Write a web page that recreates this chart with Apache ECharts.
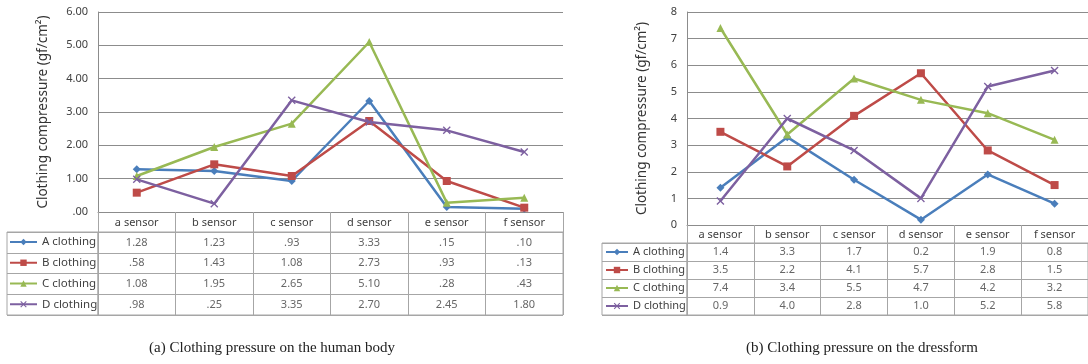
<!DOCTYPE html>
<html>
<head>
<meta charset="utf-8">
<script src="https://cdn.jsdelivr.net/npm/echarts@6/dist/echarts.min.js"></script>
<style>
html,body{margin:0;padding:0;background:#fff;}
#c{width:1088px;height:364px;}
</style>
</head>
<body>
<div id="c"></div>
<script>
// ---- data ----
const sensors = ['a sensor', 'b sensor', 'c sensor', 'd sensor', 'e sensor', 'f sensor'];
const clothing = ['A clothing', 'B clothing', 'C clothing', 'D clothing'];

// (a) human body
const bodyA = [1.28, 1.23, 0.93, 3.33, 0.15, 0.10];
const bodyB = [0.58, 1.43, 1.08, 2.73, 0.93, 0.13];
const bodyC = [1.08, 1.95, 2.65, 5.10, 0.28, 0.43];
const bodyD = [0.98, 0.25, 3.35, 2.70, 2.45, 1.80];

// (b) dressform
const formA = [1.4, 3.3, 1.7, 0.2, 1.9, 0.8];
const formB = [3.5, 2.2, 4.1, 5.7, 2.8, 1.5];
const formC = [7.4, 3.4, 5.5, 4.7, 4.2, 3.2];
const formD = [0.9, 4.0, 2.8, 1.0, 5.2, 5.8];

const yTicksBody = ['.00', '1.00', '2.00', '3.00', '4.00', '5.00', '6.00'];
const yTicksForm = ['0', '1', '2', '3', '4', '5', '6', '7', '8'];

const yTitle = 'Clothing compressure (gf/cm\u00B2)';
const captionA = '(a) Clothing pressure on the human body';
const captionB = '(b) Clothing pressure on the dressform';

// ---- styling ----
const colors = ['#4A7EBB', '#BE4B48', '#98B954', '#7D60A0'];
const xSym = 'path://M0,1.2L1.2,0L5,3.8L8.8,0L10,1.2L6.2,5L10,8.8L8.8,10L5,6.2L1.2,10L0,8.8L3.8,5Z';
const symbols = ['diamond', 'rect', 'triangle', xSym];
const symSizes = [8, 8, 8, 8];
const FONT = 'Noto Sans';
const TXT = '#404040';
const GRIDC = '#8c8c8c';
const TABC = '#a6a6a6';

const bodySeries = [bodyA, bodyB, bodyC, bodyD];
const formSeries = [formA, formB, formC, formD];

const fmtBody = v => { const s = v.toFixed(2); return s.startsWith('0') ? s.slice(1) : s; };
const fmtForm = v => v.toFixed(1);

function lineSeries(arr, xi, yi) {
  return arr.map((d, k) => ({
    type: 'line', name: clothing[k], xAxisIndex: xi, yAxisIndex: yi, data: d,
    symbol: symbols[k], symbolSize: symSizes[k], showAllSymbol: true,
    lineStyle: { color: colors[k], width: 2.5 },
    itemStyle: { color: colors[k] },
    z: 3 + k, animation: false
  }));
}
function tableSeries(arr, xi, yi, fmt, name) {
  const data = [];
  arr.forEach((d, k) => d.forEach((v, i) => data.push([i, k, v])));
  return {
    type: 'scatter', name: name, xAxisIndex: xi, yAxisIndex: yi, data: data,
    symbol: 'circle', symbolSize: 1, itemStyle: { color: 'rgba(255,255,255,0)' }, silent: true, animation: false,
    label: { show: true, position: 'inside', color: TXT, fontFamily: FONT, fontSize: 11,
      formatter: p => fmt(p.value[2]) },
    emphasis: { disabled: true }
  };
}

const plotX = (gi, tickLen) => ({
  type: 'category', gridIndex: gi, data: sensors, boundaryGap: true,
  axisLine: { show: true, lineStyle: { color: GRIDC, width: 1 } },
  axisTick: { show: true, length: tickLen, lineStyle: { color: TABC } },
  axisLabel: { show: true, color: TXT, fontFamily: FONT, fontSize: 11, margin: 4 + (tickLen - 18) / 2 },
  splitLine: { show: false }
});
const plotY = (gi, max, ticks, gap) => ({
  type: 'value', gridIndex: gi, min: 0, max: max, interval: 1,
  axisLine: { show: true, lineStyle: { color: GRIDC } },
  axisTick: { show: false },
  axisLabel: { color: TXT, fontFamily: FONT, fontSize: 11, margin: 10, formatter: v => ticks[Math.round(v)] },
  splitLine: { show: true, lineStyle: { color: GRIDC, width: 1 } },
  name: yTitle, nameLocation: 'middle', nameGap: gap,
  nameTextStyle: { color: '#333', fontFamily: FONT, fontSize: 13.5 }
});
const tabX = (gi) => ({
  type: 'category', gridIndex: gi, data: sensors, boundaryGap: true,
  axisLine: { show: false }, axisTick: { show: false }, axisLabel: { show: false },
  splitLine: { show: true, lineStyle: { color: TABC } }
});
const tabY = (gi) => ({
  type: 'category', gridIndex: gi, data: clothing, inverse: true, boundaryGap: true,
  axisLine: { show: false }, axisTick: { show: false }, axisLabel: { show: false },
  splitLine: { show: true, lineStyle: { color: TABC } }
});
const legX = (gi) => ({ type: 'value', gridIndex: gi, show: false });

const gridBox = { show: true, borderColor: TABC, borderWidth: 1, backgroundColor: 'transparent' };

const option = {
  backgroundColor: '#fff',
  animation: false,
  grid: [
    { left: 98, top: 12, width: 465, height: 200 },
    Object.assign({ left: 98, top: 232, width: 465, height: 83 }, gridBox),
    Object.assign({ left: 7, top: 232, width: 91, height: 83 }, gridBox),
    { left: 687, top: 12, width: 401, height: 213 },
    Object.assign({ left: 687, top: 243, width: 401, height: 72 }, gridBox),
    Object.assign({ left: 602, top: 243, width: 85, height: 72 }, gridBox)
  ],
  xAxis: [plotX(0, 20), tabX(1), legX(2), plotX(3, 18), tabX(4), legX(5)],
  yAxis: [plotY(0, 6, yTicksBody, 48), tabY(1), tabY(2), plotY(3, 8, yTicksForm, 38), tabY(4), tabY(5)],
  legend: [
    { data: clothing, orient: 'vertical', left: 9, top: 235, padding: 0, itemGap: 6.75,
      itemWidth: 27, itemHeight: 8, textStyle: { color: TXT, fontFamily: FONT, fontSize: 11.5, lineHeight: 14 },
      lineStyle: { width: 2 }, selectedMode: false },
    { data: clothing, orient: 'vertical', left: 605, top: 245, padding: 0, itemGap: 4,
      itemWidth: 22, itemHeight: 8, textStyle: { color: TXT, fontFamily: FONT, fontSize: 11, lineHeight: 14 },
      lineStyle: { width: 2 }, selectedMode: false }
  ],
  graphic: [
    { type: 'text', x: 272, y: 348, style: { text: captionA, font: '15px "Liberation Serif"', fill: '#222', textAlign: 'center', textVerticalAlign: 'middle' } },
    { type: 'text', x: 862, y: 348, style: { text: captionB, font: '15px "Liberation Serif"', fill: '#222', textAlign: 'center', textVerticalAlign: 'middle' } }
  ],
  series: [].concat(
    lineSeries(bodySeries, 0, 0),
    [tableSeries(bodySeries, 1, 1, fmtBody, 'tableBody')],
    lineSeries(formSeries, 3, 3),
    [tableSeries(formSeries, 4, 4, fmtForm, 'tableForm')]
  )
};

const chart = echarts.init(document.getElementById('c'), null, { renderer: 'canvas' });
chart.setOption(option);
</script>
</body>
</html>
